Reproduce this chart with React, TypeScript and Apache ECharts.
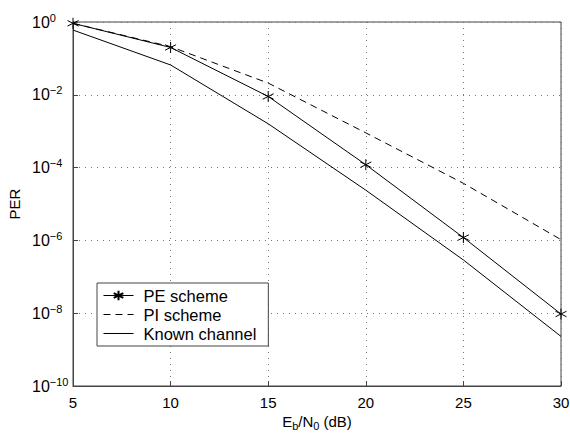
import React, { useEffect, useRef } from "react";
import * as echarts from "echarts";

const ebn0 = [5, 10, 15, 20, 25, 30];
const peScheme = [0.92, 0.2, 9e-3, 1.2e-4, 1.2e-6, 9.5e-9];
const piScheme = [0.92, 0.21, 2.1e-2, 9e-4, 3.7e-5, 1.05e-6];
const knownChannel = [0.6, 0.066, 1.6e-3, 2.4e-5, 2.9e-7, 2.3e-9];
const seriesNames = ["PE scheme", "PI scheme", "Known channel"];

const FONT = "'Liberation Sans', Arial, Helvetica, sans-serif";
const STAR = "path://M0,-10L0,10M-8.66,-5L8.66,5M-8.66,5L8.66,-5";

export default function App() {
  const ref = useRef<HTMLDivElement>(null);
  useEffect(() => {
    if (!ref.current) return;
    const chart = echarts.init(ref.current, undefined, { renderer: "svg" });
    const pair = (ys: number[]) => ebn0.map((x, i) => [x, ys[i]]);
    const gridLine = { show: true, lineStyle: { color: "#777", type: [1, 5] as any, width: 1 } };
    chart.setOption({
      animation: false,
      backgroundColor: "#fff",
      textStyle: { fontFamily: FONT, color: "#000" },
      grid: {
        left: 73, right: 9, top: 22, bottom: 48,
        outerBoundsMode: "none",
        containLabel: false,
        show: true, borderColor: "#444", borderWidth: 1, backgroundColor: "transparent",
      },
      legend: {
        orient: "vertical",
        left: 97, top: 283,
        backgroundColor: "#fff",
        borderColor: "#444",
        borderWidth: 1,
        padding: [4, 12, 4, 6],
        itemWidth: 30,
        itemHeight: 12,
        itemGap: 2,
        lineStyle: { width: 1 },
        textStyle: { fontSize: 16.5, lineHeight: 17, color: "#000", fontFamily: FONT, padding: [0, 0, 0, 5] },
        data: [
          { name: seriesNames[0] },
          { name: seriesNames[1], itemStyle: { opacity: 0 } },
          { name: seriesNames[2], itemStyle: { opacity: 0 } },
        ],
      },
      xAxis: {
        type: "value",
        min: 5, max: 30, interval: 5,
        name: "E{sub|b}/N{sub|0} (dB)",
        nameLocation: "middle",
        nameGap: 26,
        nameMoveOverlap: false,
        nameTextStyle: {
          fontSize: 15, color: "#000", fontFamily: FONT,
          rich: { sub: { fontSize: 11, padding: [8, 0, 0, 0], fontFamily: FONT, color: "#000" } },
        },
        axisLine: { show: true, lineStyle: { color: "#444" } },
        axisTick: { show: true, inside: true, length: 5, lineStyle: { color: "#444" } },
        axisLabel: { fontSize: 15, color: "#000", margin: 9, fontFamily: FONT },
        splitLine: gridLine,
      },
      yAxis: {
        type: "log",
        logBase: 10,
        min: 1e-10, max: 1,
        interval: 2,
        name: "PER",
        nameLocation: "middle",
        nameGap: 51,
        nameMoveOverlap: false,
        nameTextStyle: { fontSize: 15, color: "#000", fontFamily: FONT },
        axisLine: { show: true, lineStyle: { color: "#444" } },
        axisTick: { show: true, inside: true, length: 5, lineStyle: { color: "#444" } },
        minorTick: { show: false },
        axisLabel: {
          margin: 41,
          align: "left",
          fontFamily: FONT,
          formatter: (v: number) => `{b|10}{s|${Math.round(Math.log10(v)) === 0 ? "0" : "\u2212" + Math.abs(Math.round(Math.log10(v)))}}`,
          rich: {
            b: { fontSize: 16, color: "#000", fontFamily: FONT },
            s: { fontSize: 11, color: "#000", fontFamily: FONT, padding: [0, 0, 9, 0] },
          },
        },
        splitLine: gridLine,
      },
      series: [
        {
          name: seriesNames[0],
          type: "line",
          data: pair(peScheme),
          symbol: STAR,
          symbolSize: 11,
          showSymbol: true,
          lineStyle: { color: "#000", width: 1 },
          itemStyle: { color: "transparent", borderColor: "#000", borderWidth: 1 },
        },
        {
          name: seriesNames[1],
          type: "line",
          data: pair(piScheme),
          symbol: "none",
          lineStyle: { color: "#000", width: 1, type: [7, 5] },
          itemStyle: { color: "#000" },
        },
        {
          name: seriesNames[2],
          type: "line",
          data: pair(knownChannel),
          symbol: "none",
          lineStyle: { color: "#000", width: 1 },
          itemStyle: { color: "#000" },
        },
      ],
    });
    return () => chart.dispose();
  }, []);
  return <div ref={ref} style={{ position: "absolute", left: 0, top: 0, width: 570, height: 434 }} />;
}
